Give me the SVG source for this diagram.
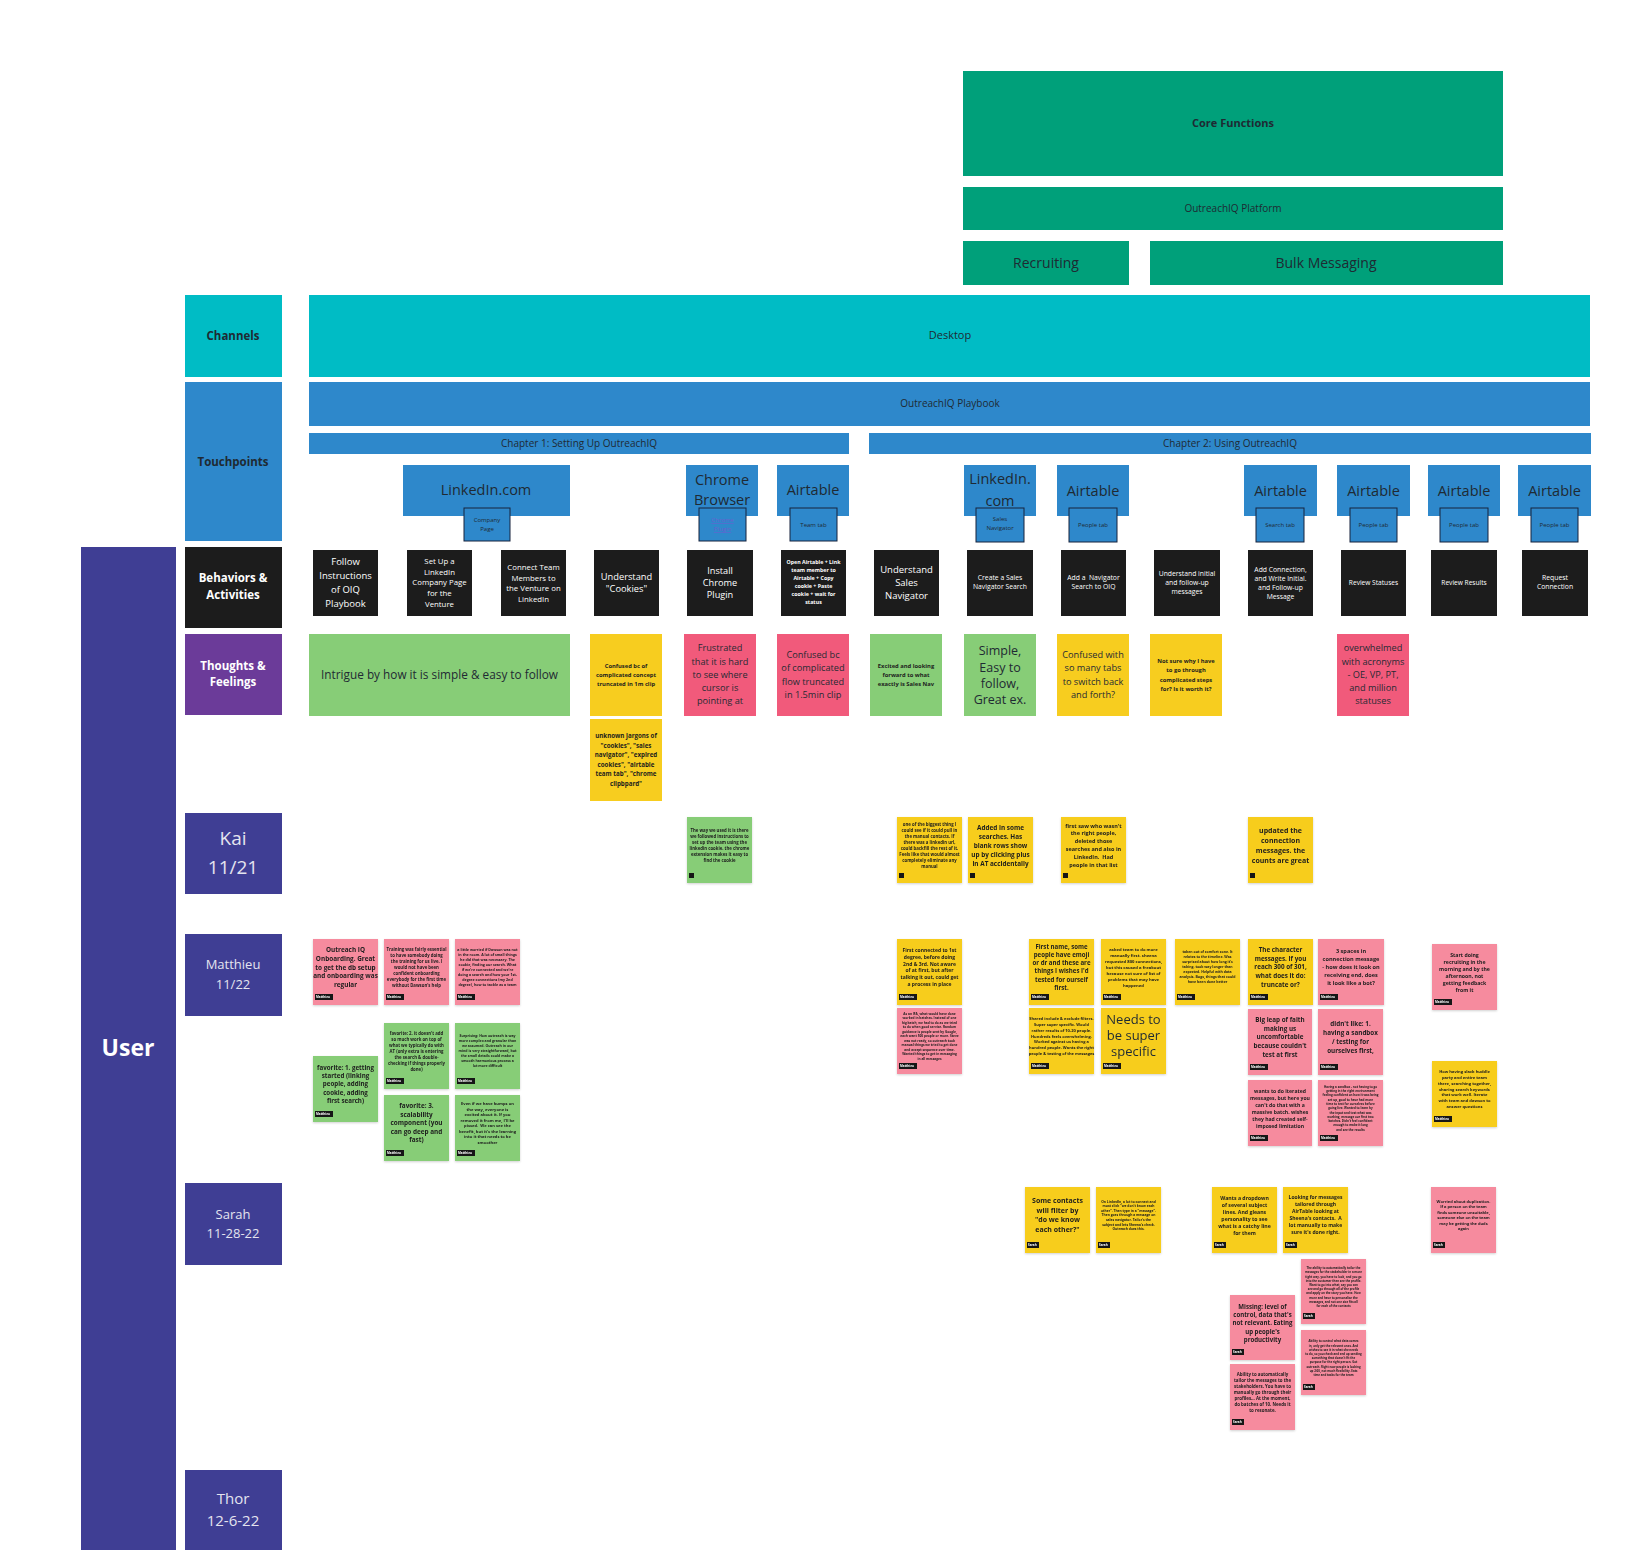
<svg xmlns="http://www.w3.org/2000/svg" width="1642" height="1554" viewBox="0 0 1642 1554">
<style>
text{font-family:"Open Sans","Liberation Sans",sans-serif;text-anchor:middle}
.dk{fill:#1f2a33}
.wt{fill:#fff}
.pl{fill:#e4e4ef}
.nt{fill:#1d1d1d;font-weight:700}
.b{font-weight:700}
.cg{fill:#00a07a}
.ct{fill:#00bcc5}
.cb{fill:#2e88cb}
.bk{fill:#1c1c1c}
.pu{fill:#6b3b99}
.nv{fill:#3f3e94}
.sg{fill:#87cd77}
.sy{fill:#f7cd1f}
.sp{fill:#f15a7b}
.sl{fill:#f68b9e}
.sub{fill:#2e88cb;stroke:#16233d;stroke-width:1}
.tag{fill:#151515}
.tg{fill:#fff;font-size:3px;font-weight:700;text-anchor:start}
.sh{filter:url(#sh)}
.lnk{fill:#6a5fd0;text-decoration:underline}
</style>
<defs>
<filter id="sh" x="-10%" y="-10%" width="130%" height="130%"><feDropShadow dx="0" dy="1" stdDeviation="1" flood-color="#000" flood-opacity="0.18"/></filter>
</defs>
<rect width="1642" height="1554" fill="#fff"/>

<!-- Header -->
<g id="core-functions"><rect class="cg" x="963" y="71" width="540" height="105"/><text class="dk b" x="1233" y="127" font-size="11">Core Functions</text></g>
<g id="platform"><rect class="cg" x="963" y="187" width="540" height="43"/><text class="dk" x="1233" y="212" font-size="10">OutreachIQ Platform</text></g>
<g id="recruiting"><rect class="cg" x="963" y="241" width="166" height="44"/><text class="dk" x="1046" y="268" font-size="14">Recruiting</text></g>
<g id="bulk-messaging"><rect class="cg" x="1150" y="241" width="353" height="44"/><text class="dk" x="1326" y="268" font-size="14">Bulk Messaging</text></g>

<!-- Row labels -->
<g id="lbl-channels"><rect class="ct" x="185" y="295" width="97" height="82"/><text class="dk b" x="233" y="340" font-size="11.5">Channels</text></g>
<g id="lbl-touchpoints"><rect class="cb" x="185" y="382" width="97" height="159"/><text class="dk b" x="233" y="466" font-size="11.5">Touchpoints</text></g>
<g id="lbl-behaviors"><rect class="bk" x="185" y="547" width="97" height="81"/><text class="wt b" x="233" y="582" font-size="11.5">Behaviors &amp;</text><text class="wt b" x="233" y="599" font-size="11.5">Activities</text></g>
<g id="lbl-thoughts"><rect class="pu" x="185" y="634" width="97" height="81"/><text class="wt b" x="233" y="670" font-size="11.5">Thoughts &amp;</text><text class="wt b" x="233" y="686" font-size="11.5">Feelings</text></g>
<g id="lbl-user"><rect class="nv" x="81" y="547" width="95" height="1003"/><text class="wt b" x="128" y="1056" font-size="23">User</text></g>
<g id="lbl-kai"><rect class="nv" x="185" y="813" width="97" height="81"/><text class="pl" x="233" y="845" font-size="19">Kai</text><text class="pl" x="233" y="874" font-size="19">11/21</text></g>
<g id="lbl-matthieu"><rect class="nv" x="185" y="934" width="97" height="82"/><text class="pl" x="233" y="968.5" font-size="13">Matthieu</text><text class="pl" x="233" y="988.5" font-size="13">11/22</text></g>
<g id="lbl-sarah"><rect class="nv" x="185" y="1183" width="97" height="82"/><text class="pl" x="233" y="1218.5" font-size="13">Sarah</text><text class="pl" x="233" y="1237.5" font-size="13">11-28-22</text></g>
<g id="lbl-thor"><rect class="nv" x="185" y="1470" width="97" height="80"/><text class="pl" x="233" y="1504" font-size="15">Thor</text><text class="pl" x="233" y="1526" font-size="15">12-6-22</text></g>

<!-- Channels / touchpoints bars -->
<g id="desktop"><rect class="ct" x="309" y="295" width="1281" height="82"/><text class="dk" x="950" y="339" font-size="11">Desktop</text></g>
<g id="playbook"><rect class="cb" x="309" y="382" width="1281" height="44"/><text class="dk" x="950" y="407" font-size="10">OutreachIQ Playbook</text></g>
<g id="chapter1"><rect class="cb" x="309" y="433" width="540" height="21"/><text class="dk" x="579" y="447" font-size="10">Chapter 1: Setting Up OutreachIQ</text></g>
<g id="chapter2"><rect class="cb" x="869" y="433" width="722" height="21"/><text class="dk" x="1230" y="447" font-size="10">Chapter 2: Using OutreachIQ</text></g>

<!-- Touchpoint boxes -->
<g id="tp-linkedin"><rect class="cb" x="403" y="465" width="167" height="51"/><text class="dk" x="486" y="495" font-size="14.5">LinkedIn.com</text>
<rect class="sub" x="464" y="508" width="46" height="33"/><text class="dk" x="487" y="522" font-size="6">Company</text><text class="dk" x="487" y="531" font-size="6">Page</text></g>
<g id="tp-chrome"><rect class="cb" x="686" y="465" width="72" height="51"/><text class="dk" x="722" y="485" font-size="14.5">Chrome</text><text class="dk" x="722" y="505" font-size="14.5">Browser</text>
<rect class="sub" x="699" y="508" width="47" height="33"/><text class="lnk" x="722.5" y="522" font-size="6">Chrome</text><text class="lnk" x="722.5" y="531" font-size="6">Plugin</text></g>
<g id="tp-airtable-team"><rect class="cb" x="777" y="465" width="72" height="51"/><text class="dk" x="813" y="495" font-size="14.5">Airtable</text>
<rect class="sub" x="790" y="508" width="47" height="33"/><text class="dk" x="813.5" y="527" font-size="6">Team tab</text></g>
<g id="tp-linkedin-sn"><rect class="cb" x="964" y="465" width="72" height="51"/><text class="dk" x="1000" y="484" font-size="14.5">LinkedIn.</text><text class="dk" x="1000" y="506" font-size="14.5">com</text>
<rect class="sub" x="976" y="508" width="48" height="34"/><text class="dk" x="1000" y="521" font-size="6">Sales</text><text class="dk" x="1000" y="530" font-size="6">Navigator</text></g>
<g id="tp-airtable-people1"><rect class="cb" x="1057" y="465" width="72" height="51"/><text class="dk" x="1093" y="496" font-size="14.5">Airtable</text>
<rect class="sub" x="1069" y="508" width="48" height="34"/><text class="dk" x="1093" y="527" font-size="6">People tab</text></g>
<g id="tp-airtable-search"><rect class="cb" x="1244" y="465" width="73" height="51"/><text class="dk" x="1280.5" y="496" font-size="14.5">Airtable</text>
<rect class="sub" x="1256" y="508" width="48" height="34"/><text class="dk" x="1280" y="527" font-size="6">Search tab</text></g>
<g id="tp-airtable-people2"><rect class="cb" x="1337" y="465" width="73" height="51"/><text class="dk" x="1373.5" y="496" font-size="14.5">Airtable</text>
<rect class="sub" x="1350" y="508" width="47" height="34"/><text class="dk" x="1373.5" y="527" font-size="6">People tab</text></g>
<g id="tp-airtable-people3"><rect class="cb" x="1428" y="465" width="72" height="51"/><text class="dk" x="1464" y="496" font-size="14.5">Airtable</text>
<rect class="sub" x="1440" y="508" width="48" height="34"/><text class="dk" x="1464" y="527" font-size="6">People tab</text></g>
<g id="tp-airtable-people4"><rect class="cb" x="1518" y="465" width="73" height="51"/><text class="dk" x="1554.5" y="496" font-size="14.5">Airtable</text>
<rect class="sub" x="1531" y="508" width="47" height="34"/><text class="dk" x="1554.5" y="527" font-size="6">People tab</text></g>

<!-- Behaviors -->
<g id="b1"><rect class="bk" x="313" y="550" width="65" height="66"/><text class="wt" font-size="9.5" x="345.5" y="565"><tspan x="345.5">Follow</tspan><tspan x="345.5" dy="14">Instructions</tspan><tspan x="345.5" dy="14">of OIQ</tspan><tspan x="345.5" dy="14">Playbook</tspan></text></g>
<g id="b2"><rect class="bk" x="407" y="550" width="65" height="66"/><text class="wt" font-size="7.8" x="439.5" y="563.8"><tspan x="439.5">Set Up a</tspan><tspan x="439.5" dy="10.8">LinkedIn</tspan><tspan x="439.5" dy="10.8">Company Page</tspan><tspan x="439.5" dy="10.8">for the</tspan><tspan x="439.5" dy="10.8">Venture</tspan></text></g>
<g id="b3"><rect class="bk" x="501" y="550" width="65" height="66"/><text class="wt" font-size="7.8" x="533.5" y="569.8"><tspan x="533.5">Connect Team</tspan><tspan x="533.5" dy="10.8">Members to</tspan><tspan x="533.5" dy="10.8">the Venture on</tspan><tspan x="533.5" dy="10.8">LinkedIn</tspan></text></g>
<g id="b4"><rect class="bk" x="594" y="550" width="65" height="66"/><text class="wt" font-size="9.3" x="626.5" y="580.3"><tspan x="626.5">Understand</tspan><tspan x="626.5" dy="12">"Cookies"</tspan></text></g>
<g id="b5"><rect class="bk" x="687" y="550" width="66" height="66"/><text class="wt" font-size="9.2" x="720" y="574.2"><tspan x="720">Install</tspan><tspan x="720" dy="11.7">Chrome</tspan><tspan x="720" dy="11.7">Plugin</tspan></text></g>
<g id="b6"><rect class="bk" x="781" y="550" width="65" height="66"/><text class="wt" font-size="5.3" font-weight="700" x="813.5" y="563.8"><tspan x="813.5">Open Airtable + Link</tspan><tspan x="813.5" dy="8">team member to</tspan><tspan x="813.5" dy="8">Airtable + Copy</tspan><tspan x="813.5" dy="8">cookie + Paste</tspan><tspan x="813.5" dy="8">cookie + wait for</tspan><tspan x="813.5" dy="8">status</tspan></text></g>
<g id="b7"><rect class="bk" x="874" y="550" width="65" height="66"/><text class="wt" font-size="9.5" x="906.5" y="573.3"><tspan x="906.5">Understand</tspan><tspan x="906.5" dy="13">Sales</tspan><tspan x="906.5" dy="13">Navigator</tspan></text></g>
<g id="b8"><rect class="bk" x="967" y="550" width="66" height="66"/><text class="wt" font-size="6.8" x="1000" y="580.4"><tspan x="1000">Create a Sales</tspan><tspan x="1000" dy="9">Navigator Search</tspan></text></g>
<g id="b9"><rect class="bk" x="1061" y="550" width="65" height="66"/><text class="wt" font-size="6.8" x="1093.5" y="580.4" xml:space="preserve"><tspan x="1093.5">Add a  Navigator</tspan><tspan x="1093.5" dy="9">Search to OIQ</tspan></text></g>
<g id="b10"><rect class="bk" x="1154" y="550" width="66" height="66"/><text class="wt" font-size="6.8" x="1187" y="576.4"><tspan x="1187">Understand initial</tspan><tspan x="1187" dy="9">and follow-up</tspan><tspan x="1187" dy="9">messages</tspan></text></g>
<g id="b11"><rect class="bk" x="1248" y="550" width="65" height="66"/><text class="wt" font-size="6.8" x="1280.5" y="572.4"><tspan x="1280.5">Add Connection,</tspan><tspan x="1280.5" dy="9">and Write Initial.</tspan><tspan x="1280.5" dy="9">and Follow-up</tspan><tspan x="1280.5" dy="9">Message</tspan></text></g>
<g id="b12"><rect class="bk" x="1341" y="550" width="65" height="66"/><text class="wt" font-size="6.6" x="1373.5" y="585.3">Review Statuses</text></g>
<g id="b13"><rect class="bk" x="1431" y="550" width="66" height="66"/><text class="wt" font-size="6.6" x="1464" y="585.3">Review Results</text></g>
<g id="b14"><rect class="bk" x="1522" y="550" width="66" height="66"/><text class="wt" font-size="6.8" x="1555" y="580.4"><tspan x="1555">Request</tspan><tspan x="1555" dy="9">Connection</tspan></text></g>

<!-- Thoughts & feelings -->
<g id="t1"><rect class="sg" x="309" y="634" width="261" height="82"/><text class="dk" font-size="11.8" x="439.5" y="679">Intrigue by how it is simple &amp; easy to follow</text></g>
<g id="t2"><rect class="sy" x="590" y="634" width="72" height="82"/><text class="nt" font-size="5.8" x="626" y="667.8"><tspan x="626">Confused bc of</tspan><tspan x="626" dy="9">complicated concept</tspan><tspan x="626" dy="9">truncated in 1m clip</tspan></text></g>
<g id="t3"><rect class="sy" x="590" y="719" width="72" height="82"/><text class="nt" font-size="6.2" x="626" y="738.3"><tspan x="626">unknown jargons of</tspan><tspan x="626" dy="9.5">"cookies", "sales</tspan><tspan x="626" dy="9.5">navigator", "expired</tspan><tspan x="626" dy="9.5">cookies", "airtable</tspan><tspan x="626" dy="9.5">team tab", "chrome</tspan><tspan x="626" dy="9.5">clipbpard"</tspan></text></g>
<g id="t4"><rect class="sp" x="684" y="634" width="72" height="82"/><text class="dk" font-size="9.2" x="720" y="651.2"><tspan x="720">Frustrated</tspan><tspan x="720" dy="13.3">that it is hard</tspan><tspan x="720" dy="13.3">to see where</tspan><tspan x="720" dy="13.3">cursor is</tspan><tspan x="720" dy="13.3">pointing at</tspan></text></g>
<g id="t5"><rect class="sp" x="777" y="634" width="72" height="82"/><text class="dk" font-size="9.2" x="813" y="657.9"><tspan x="813">Confused bc</tspan><tspan x="813" dy="13.3">of complicated</tspan><tspan x="813" dy="13.3">flow truncated</tspan><tspan x="813" dy="13.3">in 1.5min clip</tspan></text></g>
<g id="t6"><rect class="sg" x="870" y="634" width="72" height="82"/><text class="nt" font-size="5.8" x="906" y="668.2"><tspan x="906">Excited and looking</tspan><tspan x="906" dy="9">forward to what</tspan><tspan x="906" dy="9">exactly is Sales Nav</tspan></text></g>
<g id="t7"><rect class="sg" x="964" y="634" width="72" height="82"/><text class="dk" font-size="12.5" x="1000" y="655.4"><tspan x="1000">Simple,</tspan><tspan x="1000" dy="16.3">Easy to</tspan><tspan x="1000" dy="16.3">follow,</tspan><tspan x="1000" dy="16.3">Great ex.</tspan></text></g>
<g id="t8"><rect class="sy" x="1057" y="634" width="72" height="82"/><text class="dk" font-size="9.2" x="1093" y="658"><tspan x="1093">Confused with</tspan><tspan x="1093" dy="13.3">so many tabs</tspan><tspan x="1093" dy="13.3">to switch back</tspan><tspan x="1093" dy="13.3">and forth?</tspan></text></g>
<g id="t9"><rect class="sy" x="1150" y="634" width="72" height="82"/><text class="nt" font-size="5.8" x="1186" y="663.2"><tspan x="1186">Not sure why I have</tspan><tspan x="1186" dy="9.2">to go through</tspan><tspan x="1186" dy="9.2">complicated steps</tspan><tspan x="1186" dy="9.2">for? Is it worth it?</tspan></text></g>
<g id="t10"><rect class="sp" x="1337" y="634" width="72" height="82"/><text class="dk" font-size="9.2" x="1373" y="651.2"><tspan x="1373">overwhelmed</tspan><tspan x="1373" dy="13.3">with acronyms</tspan><tspan x="1373" dy="13.3">- OE, VP, PT,</tspan><tspan x="1373" dy="13.3">and million</tspan><tspan x="1373" dy="13.3">statuses</tspan></text></g>

<!-- Kai notes -->
<g id="k1" class="sh"><rect class="sg" x="687" y="817" width="65" height="66"/><rect class="tag" x="689" y="873" width="5" height="5"/><text class="nt" font-size="4.3" x="719.5" y="831.6"><tspan x="719.5">The way we used it is there</tspan><tspan x="719.5" dy="6">we followed instructions to</tspan><tspan x="719.5" dy="6">set up the team using the</tspan><tspan x="719.5" dy="6">linkedin cookie. the chrome</tspan><tspan x="719.5" dy="6">extension makes it easy to</tspan><tspan x="719.5" dy="6">find the cookie</tspan></text></g>
<g id="k2" class="sh"><rect class="sy" x="897" y="817" width="65" height="66"/><rect class="tag" x="899" y="873" width="5" height="5"/><text class="nt" font-size="4.3" x="929.5" y="825.6"><tspan x="929.5">one of the biggest thing I</tspan><tspan x="929.5" dy="6">could see if it could pull in</tspan><tspan x="929.5" dy="6">the manual contacts. If</tspan><tspan x="929.5" dy="6">there was a linkedin url,</tspan><tspan x="929.5" dy="6">could backfill the rest of it.</tspan><tspan x="929.5" dy="6">Feels like that would almost</tspan><tspan x="929.5" dy="6">completely eliminate any</tspan><tspan x="929.5" dy="6">manual</tspan></text></g>
<g id="k3" class="sh"><rect class="sy" x="968" y="817" width="65" height="66"/><rect class="tag" x="970" y="873" width="5" height="5"/><text class="nt" font-size="6.4" x="1000.5" y="829.5"><tspan x="1000.5">Added in some</tspan><tspan x="1000.5" dy="9">searches. Has</tspan><tspan x="1000.5" dy="9">blank rows show</tspan><tspan x="1000.5" dy="9">up by clicking plus</tspan><tspan x="1000.5" dy="9">in AT accidentally</tspan></text></g>
<g id="k4" class="sh"><rect class="sy" x="1061" y="817" width="65" height="66"/><rect class="tag" x="1063" y="873" width="5" height="5"/><text class="nt" font-size="5.5" x="1093.5" y="827.6" xml:space="preserve"><tspan x="1093.5">first saw who wasn't</tspan><tspan x="1093.5" dy="7.8">the right people,</tspan><tspan x="1093.5" dy="7.8">deleted those</tspan><tspan x="1093.5" dy="7.8">searches and also in</tspan><tspan x="1093.5" dy="7.8">LinkedIn.  Had</tspan><tspan x="1093.5" dy="7.8">people in that list</tspan></text></g>
<g id="k5" class="sh"><rect class="sy" x="1248" y="817" width="65" height="66"/><rect class="tag" x="1250" y="873" width="5" height="5"/><text class="nt" font-size="7" x="1280.5" y="832.6"><tspan x="1280.5">updated the</tspan><tspan x="1280.5" dy="10">connection</tspan><tspan x="1280.5" dy="10">messages. the</tspan><tspan x="1280.5" dy="10">counts are great</tspan></text></g>

<!-- Matthieu notes -->
<g id="m1" class="sh"><rect class="sl" x="313" y="939" width="65" height="66"/><rect class="tag" x="315" y="994" width="18" height="6"/><text class="tg" x="316" y="998.2">Matthieu</text><text class="nt" font-size="6.4" x="345.5" y="951.9"><tspan x="345.5">Outreach IQ</tspan><tspan x="345.5" dy="8.8">Onboarding. Great</tspan><tspan x="345.5" dy="8.8">to get the db setup</tspan><tspan x="345.5" dy="8.8">and onboarding was</tspan><tspan x="345.5" dy="8.8">regular</tspan></text></g>
<g id="m2" class="sh"><rect class="sl" x="384" y="939" width="65" height="66"/><rect class="tag" x="386" y="994" width="18" height="6"/><text class="tg" x="387" y="998.2">Matthieu</text><text class="nt" font-size="4.3" x="416.5" y="950.6"><tspan x="416.5">Training was fairly essential</tspan><tspan x="416.5" dy="6">to have somebody doing</tspan><tspan x="416.5" dy="6">the training for us live. I</tspan><tspan x="416.5" dy="6">would not have been</tspan><tspan x="416.5" dy="6">confident onboarding</tspan><tspan x="416.5" dy="6">everybody for the first time</tspan><tspan x="416.5" dy="6">without Dawson's help</tspan></text></g>
<g id="m3" class="sh"><rect class="sl" x="455" y="939" width="65" height="66"/><rect class="tag" x="457" y="994" width="18" height="6"/><text class="tg" x="458" y="998.2">Matthieu</text><text class="nt" font-size="3.6" x="487.5" y="950.9"><tspan x="487.5">a little worried if Dawson was not</tspan><tspan x="487.5" dy="5">in the room. A lot of small things</tspan><tspan x="487.5" dy="5">he did that was necessary. The</tspan><tspan x="487.5" dy="5">cookie, finding our search. What</tspan><tspan x="487.5" dy="5">if we're connected and we're</tspan><tspan x="487.5" dy="5">doing a search and how your 1st-</tspan><tspan x="487.5" dy="5">degree connections (my 2nd</tspan><tspan x="487.5" dy="5">degree), how to tackle as a team</tspan></text></g>
<g id="m16" class="sh"><rect class="sg" x="313" y="1056" width="65" height="66"/><rect class="tag" x="315" y="1111" width="18" height="6"/><text class="tg" x="316" y="1115.2">Matthieu</text><text class="nt" font-size="6.2" x="345.5" y="1069.9"><tspan x="345.5">favorite: 1. getting</tspan><tspan x="345.5" dy="8.2">started (linking</tspan><tspan x="345.5" dy="8.2">people, adding</tspan><tspan x="345.5" dy="8.2">cookie, adding</tspan><tspan x="345.5" dy="8.2">first search)</tspan></text></g>
<g id="m17" class="sh"><rect class="sg" x="384" y="1023" width="65" height="66"/><rect class="tag" x="386" y="1078" width="18" height="6"/><text class="tg" x="387" y="1082.2">Matthieu</text><text class="nt" font-size="4.3" x="416.5" y="1034.6"><tspan x="416.5">favorite: 2. it doesn't add</tspan><tspan x="416.5" dy="6">so much work on top of</tspan><tspan x="416.5" dy="6">what we typically do with</tspan><tspan x="416.5" dy="6">AT (only extra is entering</tspan><tspan x="416.5" dy="6">the search &amp; double-</tspan><tspan x="416.5" dy="6">checking if things properly</tspan><tspan x="416.5" dy="6">done)</tspan></text></g>
<g id="m18" class="sh"><rect class="sg" x="455" y="1023" width="65" height="66"/><rect class="tag" x="457" y="1078" width="18" height="6"/><text class="tg" x="458" y="1082.2">Matthieu</text><text class="nt" font-size="3.5" x="487.5" y="1037.3"><tspan x="487.5">Surprising: How outreach is way</tspan><tspan x="487.5" dy="5">more complex and granular than</tspan><tspan x="487.5" dy="5">we assumed. Outreach in our</tspan><tspan x="487.5" dy="5">mind is very straightforward, but</tspan><tspan x="487.5" dy="5">the small details could make a</tspan><tspan x="487.5" dy="5">smooth harmonious process a</tspan><tspan x="487.5" dy="5">lot more difficult</tspan></text></g>
<g id="m19" class="sh"><rect class="sg" x="384" y="1095" width="65" height="66"/><rect class="tag" x="386" y="1150" width="18" height="6"/><text class="tg" x="387" y="1154.2">Matthieu</text><text class="nt" font-size="6.4" x="416.5" y="1108.4"><tspan x="416.5">favorite: 3.</tspan><tspan x="416.5" dy="8.5">scalability</tspan><tspan x="416.5" dy="8.5">component (you</tspan><tspan x="416.5" dy="8.5">can go deep and</tspan><tspan x="416.5" dy="8.5">fast)</tspan></text></g>
<g id="m20" class="sh"><rect class="sg" x="455" y="1095" width="65" height="66"/><rect class="tag" x="457" y="1150" width="18" height="6"/><text class="tg" x="458" y="1154.2">Matthieu</text><text class="nt" font-size="4.1" x="487.5" y="1105.3" xml:space="preserve"><tspan x="487.5">Even if we have bumps on</tspan><tspan x="487.5" dy="5.5">the way, everyone is</tspan><tspan x="487.5" dy="5.5">excited about it. If you</tspan><tspan x="487.5" dy="5.5">removed it from me, I'll be</tspan><tspan x="487.5" dy="5.5">pissed.  We can see the</tspan><tspan x="487.5" dy="5.5">benefit, but it's the learning</tspan><tspan x="487.5" dy="5.5">into it that needs to be</tspan><tspan x="487.5" dy="5.5">smoother</tspan></text></g>
<g id="m4" class="sh"><rect class="sy" x="897" y="939" width="65" height="66"/><rect class="tag" x="899" y="994" width="18" height="6"/><text class="tg" x="900" y="998.2">Matthieu</text><text class="nt" font-size="5" x="929.5" y="951.9"><tspan x="929.5">First connected to 1st</tspan><tspan x="929.5" dy="6.8">degree, before doing</tspan><tspan x="929.5" dy="6.8">2nd &amp; 3rd. Not aware</tspan><tspan x="929.5" dy="6.8">of at first, but after</tspan><tspan x="929.5" dy="6.8">talking it out, could get</tspan><tspan x="929.5" dy="6.8">a process in place</tspan></text></g>
<g id="m11" class="sh"><rect class="sl" x="897" y="1008" width="65" height="66"/><rect class="tag" x="899" y="1063" width="18" height="6"/><text class="tg" x="900" y="1067.2">Matthieu</text><text class="nt" font-size="3.2" x="929.5" y="1014.7"><tspan x="929.5">As an IFA, what would have done</tspan><tspan x="929.5" dy="4.5">worked in batches. Instead of one</tspan><tspan x="929.5" dy="4.5">big batch, we had to do as we tried</tspan><tspan x="929.5" dy="4.5">to do when good service. Random</tspan><tspan x="929.5" dy="4.5">guidance is people sent by Google,</tspan><tspan x="929.5" dy="4.5">each want 500 people or more. Steve</tspan><tspan x="929.5" dy="4.5">was not ready, so outreach took</tspan><tspan x="929.5" dy="4.5">manual things we tried to get done</tspan><tspan x="929.5" dy="4.5">and accept sequence over time.</tspan><tspan x="929.5" dy="4.5">Wanted things to get in messaging</tspan><tspan x="929.5" dy="4.5">in all messages</tspan></text></g>
<g id="m5" class="sh"><rect class="sy" x="1029" y="939" width="65" height="66"/><rect class="tag" x="1031" y="994" width="18" height="6"/><text class="tg" x="1032" y="998.2">Matthieu</text><text class="nt" font-size="6.1" x="1061.5" y="948.8"><tspan x="1061.5">First name, some</tspan><tspan x="1061.5" dy="8.2">people have emoji</tspan><tspan x="1061.5" dy="8.2">or dr and these are</tspan><tspan x="1061.5" dy="8.2">things I wishes I'd</tspan><tspan x="1061.5" dy="8.2">tested for ourself</tspan><tspan x="1061.5" dy="8.2">first.</tspan></text></g>
<g id="m12" class="sh"><rect class="sy" x="1029" y="1008" width="65" height="66"/><rect class="tag" x="1031" y="1063" width="18" height="6"/><text class="tg" x="1032" y="1067.2">Matthieu</text><text class="nt" font-size="4" x="1061.5" y="1020.2"><tspan x="1061.5">Shared include &amp; exclude filters.</tspan><tspan x="1061.5" dy="5.8">Super super specific. Would</tspan><tspan x="1061.5" dy="5.8">rather results of 10-20 people.</tspan><tspan x="1061.5" dy="5.8">Hundreds feels overwhelming.</tspan><tspan x="1061.5" dy="5.8">Worked against us having a</tspan><tspan x="1061.5" dy="5.8">hundred people. Wants the right</tspan><tspan x="1061.5" dy="5.8">people &amp; testing of the messages</tspan></text></g>
<g id="m6" class="sh"><rect class="sy" x="1101" y="939" width="65" height="66"/><rect class="tag" x="1103" y="994" width="18" height="6"/><text class="tg" x="1104" y="998.2">Matthieu</text><text class="nt" font-size="4.2" x="1133.5" y="950.6"><tspan x="1133.5">asked team to do more</tspan><tspan x="1133.5" dy="6">manually first. sheena</tspan><tspan x="1133.5" dy="6">requested 800 connections,</tspan><tspan x="1133.5" dy="6">but this caused a freakout</tspan><tspan x="1133.5" dy="6">because not sure of list of</tspan><tspan x="1133.5" dy="6">problems that may have</tspan><tspan x="1133.5" dy="6">happened</tspan></text></g>
<g id="m13" class="sh"><rect class="sy" x="1101" y="1008" width="65" height="66"/><rect class="tag" x="1103" y="1063" width="18" height="6"/><text class="tg" x="1104" y="1067.2">Matthieu</text><text class="dk" font-size="13" x="1133.5" y="1023.7"><tspan x="1133.5">Needs to</tspan><tspan x="1133.5" dy="16">be super</tspan><tspan x="1133.5" dy="16">specific</tspan></text></g>
<g id="m7" class="sh"><rect class="sy" x="1175" y="939" width="65" height="66"/><rect class="tag" x="1177" y="994" width="18" height="6"/><text class="tg" x="1178" y="998.2">Matthieu</text><text class="nt" font-size="3.5" x="1207.5" y="953.4"><tspan x="1207.5">taken out of comfort zone. It</tspan><tspan x="1207.5" dy="5">relates to the timeline. Was</tspan><tspan x="1207.5" dy="5">surprised about how long it's</tspan><tspan x="1207.5" dy="5">taking. took way longer than</tspan><tspan x="1207.5" dy="5">expected. Helpful with data</tspan><tspan x="1207.5" dy="5">analysis. Bugs, things that could</tspan><tspan x="1207.5" dy="5">have been done better</tspan></text></g>
<g id="m8" class="sh"><rect class="sy" x="1248" y="939" width="65" height="66"/><rect class="tag" x="1250" y="994" width="18" height="6"/><text class="tg" x="1251" y="998.2">Matthieu</text><text class="nt" font-size="6.3" x="1280.5" y="951.8"><tspan x="1280.5">The character</tspan><tspan x="1280.5" dy="8.8">messages. If you</tspan><tspan x="1280.5" dy="8.8">reach 300 of 301,</tspan><tspan x="1280.5" dy="8.8">what does it do:</tspan><tspan x="1280.5" dy="8.8">truncate or?</tspan></text></g>
<g id="m9" class="sh"><rect class="sl" x="1318" y="939" width="66" height="66"/><rect class="tag" x="1320" y="994" width="18" height="6"/><text class="tg" x="1321" y="998.2">Matthieu</text><text class="nt" font-size="5.6" x="1351" y="953.2"><tspan x="1351">3 spaces in</tspan><tspan x="1351" dy="8">connection message</tspan><tspan x="1351" dy="8">- how does it look on</tspan><tspan x="1351" dy="8">receiving end, does</tspan><tspan x="1351" dy="8">it look like a bot?</tspan></text></g>
<g id="m14" class="sh"><rect class="sl" x="1248" y="1009" width="64" height="66"/><rect class="tag" x="1250" y="1064" width="18" height="6"/><text class="tg" x="1251" y="1068.2">Matthieu</text><text class="nt" font-size="6.3" x="1280" y="1021.8"><tspan x="1280">Big leap of faith</tspan><tspan x="1280" dy="8.8">making us</tspan><tspan x="1280" dy="8.8">uncomfortable</tspan><tspan x="1280" dy="8.8">because couldn't</tspan><tspan x="1280" dy="8.8">test at first</tspan></text></g>
<g id="m15" class="sh"><rect class="sl" x="1318" y="1009" width="65" height="66"/><rect class="tag" x="1320" y="1064" width="18" height="6"/><text class="tg" x="1321" y="1068.2">Matthieu</text><text class="nt" font-size="6.3" x="1350.5" y="1026.2"><tspan x="1350.5">didn't like: 1.</tspan><tspan x="1350.5" dy="8.8">having a sandbox</tspan><tspan x="1350.5" dy="8.8">/ testing for</tspan><tspan x="1350.5" dy="8.8">ourselves first,</tspan></text></g>
<g id="m21" class="sh"><rect class="sl" x="1248" y="1080" width="64" height="66"/><rect class="tag" x="1250" y="1135" width="18" height="6"/><text class="tg" x="1251" y="1139.2">Matthieu</text><text class="nt" font-size="5.1" x="1280" y="1092.5"><tspan x="1280">wants to do iterated</tspan><tspan x="1280" dy="7">messages, but here you</tspan><tspan x="1280" dy="7">can't do that with a</tspan><tspan x="1280" dy="7">massive batch. wishes</tspan><tspan x="1280" dy="7">they had created self-</tspan><tspan x="1280" dy="7">imposed limitation</tspan></text></g>
<g id="m22" class="sh"><rect class="sl" x="1318" y="1080" width="65" height="66"/><rect class="tag" x="1320" y="1135" width="18" height="6"/><text class="tg" x="1321" y="1139.2">Matthieu</text><text class="nt" font-size="3" x="1350.5" y="1087.7"><tspan x="1350.5">Having a sandbox - not having to go</tspan><tspan x="1350.5" dy="4.3">getting in the right environment</tspan><tspan x="1350.5" dy="4.3">feeling confident on how it was being</tspan><tspan x="1350.5" dy="4.3">set up, good to have had more</tspan><tspan x="1350.5" dy="4.3">time to test for ourselves before</tspan><tspan x="1350.5" dy="4.3">going live. Wanted to learn by</tspan><tspan x="1350.5" dy="4.3">the input and test what was</tspan><tspan x="1350.5" dy="4.3">working, message our first two</tspan><tspan x="1350.5" dy="4.3">batches. Didn't feel confident</tspan><tspan x="1350.5" dy="4.3">enough to make it long</tspan><tspan x="1350.5" dy="4.3">and see the results</tspan></text></g>
<g id="m10" class="sh"><rect class="sl" x="1432" y="944" width="65" height="66"/><rect class="tag" x="1434" y="999" width="18" height="6"/><text class="tg" x="1435" y="1003.2">Matthieu</text><text class="nt" font-size="5.2" x="1464.5" y="956.5"><tspan x="1464.5">Start doing</tspan><tspan x="1464.5" dy="7">recruiting in the</tspan><tspan x="1464.5" dy="7">morning and by the</tspan><tspan x="1464.5" dy="7">afternoon, not</tspan><tspan x="1464.5" dy="7">getting feedback</tspan><tspan x="1464.5" dy="7">from it</tspan></text></g>
<g id="m23" class="sh"><rect class="sy" x="1432" y="1061" width="65" height="66"/><rect class="tag" x="1434" y="1116" width="18" height="6"/><text class="tg" x="1435" y="1120.2">Matthieu</text><text class="nt" font-size="4.1" x="1464.5" y="1073.4"><tspan x="1464.5">How having slack huddle</tspan><tspan x="1464.5" dy="5.7">party and entire team</tspan><tspan x="1464.5" dy="5.7">there, searching together,</tspan><tspan x="1464.5" dy="5.7">sharing search keywords</tspan><tspan x="1464.5" dy="5.7">that work well. Iterate</tspan><tspan x="1464.5" dy="5.7">with team and dawson to</tspan><tspan x="1464.5" dy="5.7">answer questions</tspan></text></g>

<!-- Sarah notes -->
<g id="s1" class="sh"><rect class="sy" x="1025" y="1187" width="65" height="66"/><rect class="tag" x="1027" y="1242" width="12" height="6"/><text class="tg" x="1028" y="1246.2">Sarah</text><text class="nt" font-size="7" x="1057.5" y="1203.4"><tspan x="1057.5">Some contacts</tspan><tspan x="1057.5" dy="9.5">will filter by</tspan><tspan x="1057.5" dy="9.5">"do we know</tspan><tspan x="1057.5" dy="9.5">each other?"</tspan></text></g>
<g id="s2" class="sh"><rect class="sy" x="1096" y="1187" width="65" height="66"/><rect class="tag" x="1098" y="1242" width="12" height="6"/><text class="tg" x="1099" y="1246.2">Sarah</text><text class="nt" font-size="3.3" x="1128.5" y="1202.5"><tspan x="1128.5">On LinkedIn, a lot to connect and</tspan><tspan x="1128.5" dy="4.6">must click "we don't know each</tspan><tspan x="1128.5" dy="4.6">other". Then type in a "message".</tspan><tspan x="1128.5" dy="4.6">Then goes through a message on</tspan><tspan x="1128.5" dy="4.6">sales navigator. Tailor's the</tspan><tspan x="1128.5" dy="4.6">subject and lets Sheena's check.</tspan><tspan x="1128.5" dy="4.6">Outreach does this.</tspan></text></g>
<g id="s3" class="sh"><rect class="sy" x="1212" y="1187" width="65" height="66"/><rect class="tag" x="1214" y="1242" width="12" height="6"/><text class="tg" x="1215" y="1246.2">Sarah</text><text class="nt" font-size="5.2" x="1244.5" y="1199.5"><tspan x="1244.5">Wants a dropdown</tspan><tspan x="1244.5" dy="7">of several subject</tspan><tspan x="1244.5" dy="7">lines. And gleans</tspan><tspan x="1244.5" dy="7">personality to see</tspan><tspan x="1244.5" dy="7">what is a catchy line</tspan><tspan x="1244.5" dy="7">for them</tspan></text></g>
<g id="s4" class="sh"><rect class="sy" x="1283" y="1187" width="65" height="66"/><rect class="tag" x="1285" y="1242" width="12" height="6"/><text class="tg" x="1286" y="1246.2">Sarah</text><text class="nt" font-size="5" x="1315.5" y="1199.4" xml:space="preserve"><tspan x="1315.5">Looking for messages</tspan><tspan x="1315.5" dy="7">tailored through</tspan><tspan x="1315.5" dy="7">AirTable looking at</tspan><tspan x="1315.5" dy="7">Sheena's contacts.  A</tspan><tspan x="1315.5" dy="7">lot manually to make</tspan><tspan x="1315.5" dy="7">sure it's done right.</tspan></text></g>
<g id="s5" class="sh"><rect class="sl" x="1431" y="1187" width="65" height="66"/><rect class="tag" x="1433" y="1242" width="12" height="6"/><text class="tg" x="1434" y="1246.2">Sarah</text><text class="nt" font-size="4" x="1463.5" y="1202.8"><tspan x="1463.5">Worried about duplication.</tspan><tspan x="1463.5" dy="5.5">If a person on the team</tspan><tspan x="1463.5" dy="5.5">finds someone unsuitable,</tspan><tspan x="1463.5" dy="5.5">someone else on the team</tspan><tspan x="1463.5" dy="5.5">may be getting the duds</tspan><tspan x="1463.5" dy="5.5">again</tspan></text></g>
<g id="s6" class="sh"><rect class="sl" x="1301" y="1259" width="65" height="65"/><rect class="tag" x="1303" y="1313" width="12" height="6"/><text class="tg" x="1304" y="1317.2">Sarah</text><text class="nt" font-size="2.9" x="1333.5" y="1269.2"><tspan x="1333.5">The ability to automatically tailor the</tspan><tspan x="1333.5" dy="4.2">messages for the stakeholder in a more</tspan><tspan x="1333.5" dy="4.2">tight way. you have to look, and you go</tspan><tspan x="1333.5" dy="4.2">into the customer then see the profile.</tspan><tspan x="1333.5" dy="4.2">Want to go into what, say you can</tspan><tspan x="1333.5" dy="4.2">see and go through all of the profile</tspan><tspan x="1333.5" dy="4.2">and apply on the story you have. How</tspan><tspan x="1333.5" dy="4.2">more and have to personalise the</tspan><tspan x="1333.5" dy="4.2">messages, and not one size fits all</tspan><tspan x="1333.5" dy="4.2">for each of the contacts</tspan></text></g>
<g id="s7" class="sh"><rect class="sl" x="1230" y="1295" width="65" height="65"/><rect class="tag" x="1232" y="1349" width="12" height="6"/><text class="tg" x="1233" y="1353.2">Sarah</text><text class="nt" font-size="6.1" x="1262.5" y="1308.5"><tspan x="1262.5">Missing: level of</tspan><tspan x="1262.5" dy="8.4">control, data that's</tspan><tspan x="1262.5" dy="8.4">not relevant. Eating</tspan><tspan x="1262.5" dy="8.4">up people's</tspan><tspan x="1262.5" dy="8.4">productivity</tspan></text></g>
<g id="s8" class="sh"><rect class="sl" x="1301" y="1330" width="65" height="65"/><rect class="tag" x="1303" y="1384" width="12" height="6"/><text class="tg" x="1304" y="1388.2">Sarah</text><text class="nt" font-size="2.9" x="1333.5" y="1342.3"><tspan x="1333.5">Ability to control what data comes</tspan><tspan x="1333.5" dy="4.2">in, only get the relevant ones. And</tspan><tspan x="1333.5" dy="4.2">wishes to see it in what she needs</tspan><tspan x="1333.5" dy="4.2">to do, so you check and end up sending</tspan><tspan x="1333.5" dy="4.2">something that doesn't fit the</tspan><tspan x="1333.5" dy="4.2">purpose for the right person. Got</tspan><tspan x="1333.5" dy="4.2">outreach. Right now people is looking</tspan><tspan x="1333.5" dy="4.2">up 2:00, not much flexibility. Eats</tspan><tspan x="1333.5" dy="4.2">time and tasks for the team</tspan></text></g>
<g id="s9" class="sh"><rect class="sl" x="1230" y="1364" width="65" height="66"/><rect class="tag" x="1232" y="1419" width="12" height="6"/><text class="tg" x="1233" y="1423.2">Sarah</text><text class="nt" font-size="4.4" x="1262.5" y="1375.6"><tspan x="1262.5">Ability to automatically</tspan><tspan x="1262.5" dy="6">tailor the messages to the</tspan><tspan x="1262.5" dy="6">stakeholders. You have to</tspan><tspan x="1262.5" dy="6">manually go through their</tspan><tspan x="1262.5" dy="6">profiles... At the moment,</tspan><tspan x="1262.5" dy="6">do batches of 10. Needs it</tspan><tspan x="1262.5" dy="6">to resonate.</tspan></text></g>

<g id="connectors"></g>
</svg>
